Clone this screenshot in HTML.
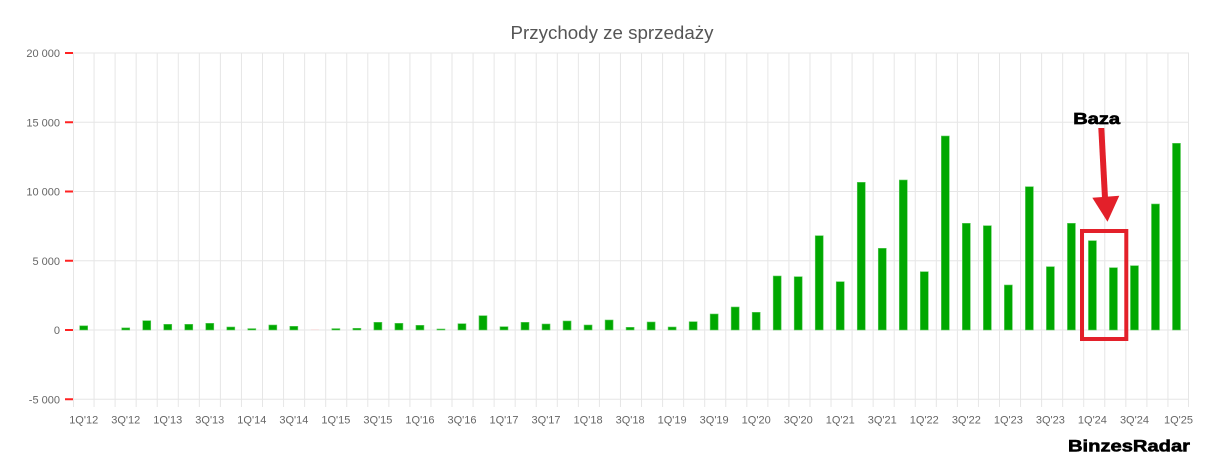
<!DOCTYPE html>
<html>
<head>
<meta charset="utf-8">
<style>
html,body{margin:0;padding:0;background:#fff;}
svg{display:block;}
text{font-family:"Liberation Sans",Arial,sans-serif;}
</style>
</head>
<body>
<svg width="1209" height="460" viewBox="0 0 1209 460" xmlns="http://www.w3.org/2000/svg">
<rect x="0" y="0" width="1209" height="460" fill="#fff"/>
<text x="612" y="39" text-anchor="middle" font-size="18" fill="#555" textLength="203" lengthAdjust="spacingAndGlyphs">Przychody ze sprzedaży</text>
<g stroke="#e6e6e6" stroke-width="1">
<path d="M73.5 53V407 M94.06 53V407 M115.11 53V407 M136.17 53V407 M157.23 53V407 M178.28 53V407 M199.34 53V407 M220.4 53V407 M241.45 53V407 M262.51 53V407 M283.57 53V407 M304.62 53V407 M325.68 53V407 M346.74 53V407 M367.79 53V407 M388.85 53V407 M409.91 53V407 M430.96 53V407 M452.02 53V407 M473.08 53V407 M494.13 53V407 M515.19 53V407 M536.25 53V407 M557.3 53V407 M578.36 53V407 M599.42 53V407 M620.47 53V407 M641.53 53V407 M662.58 53V407 M683.64 53V407 M704.7 53V407 M725.75 53V407 M746.81 53V407 M767.87 53V407 M788.92 53V407 M809.98 53V407 M831.04 53V407 M852.09 53V407 M873.15 53V407 M894.21 53V407 M915.26 53V407 M936.32 53V407 M957.38 53V407 M978.43 53V407 M999.49 53V407 M1020.55 53V407 M1041.6 53V407 M1062.66 53V407 M1083.72 53V407 M1104.77 53V407 M1125.83 53V407 M1146.89 53V407 M1167.94 53V407 M1188.5 53V407"/>
<path d="M73 53H1189 M73 122.3H1189 M73 191.5H1189 M73 260.8H1189 M73 330H1189 M73 399.3H1189"/>
</g>
<g stroke="#f22" stroke-width="2">
<path d="M65 53H73 M65 122.3H73 M65 191.5H73 M65 260.8H73 M65 330H73 M65 399.3H73"/>
</g>
<g font-size="11" fill="#666" text-anchor="end">
<text x="60" y="57">20 000</text>
<text x="60" y="126.3">15 000</text>
<text x="60" y="195.5">10 000</text>
<text x="60" y="264.8">5 000</text>
<text x="60" y="334">0</text>
<text x="60" y="403.3">-5 000</text>
</g>
<g fill="#00a800" stroke="#5fcc5f" stroke-width="0.6">
<rect x="79.7" y="325.8" width="8" height="4.2"/>
<rect x="121.73" y="327.9" width="8" height="2.1"/>
<rect x="142.75" y="320.7" width="8" height="9.3"/>
<rect x="163.76" y="324.3" width="8" height="5.7"/>
<rect x="184.78" y="324.3" width="8" height="5.7"/>
<rect x="205.79" y="323.3" width="8" height="6.7"/>
<rect x="226.81" y="327" width="8" height="3"/>
<rect x="247.82" y="328.6" width="8" height="1.4"/>
<rect x="268.84" y="325" width="8" height="5"/>
<rect x="289.85" y="326.3" width="8" height="3.7"/>
<rect x="331.88" y="328.6" width="8" height="1.4"/>
<rect x="352.9" y="328.3" width="8" height="1.7"/>
<rect x="373.91" y="322.3" width="8" height="7.7"/>
<rect x="394.93" y="323.3" width="8" height="6.7"/>
<rect x="415.94" y="325.3" width="8" height="4.7"/>
<rect x="436.96" y="329" width="8" height="1"/>
<rect x="457.97" y="323.7" width="8" height="6.3"/>
<rect x="478.99" y="315.7" width="8" height="14.3"/>
<rect x="500" y="326.7" width="8" height="3.3"/>
<rect x="521.02" y="322.3" width="8" height="7.7"/>
<rect x="542.03" y="324" width="8" height="6"/>
<rect x="563.05" y="321" width="8" height="9"/>
<rect x="584.06" y="325" width="8" height="5"/>
<rect x="605.08" y="320" width="8" height="10"/>
<rect x="626.09" y="327.3" width="8" height="2.7"/>
<rect x="647.11" y="322" width="8" height="8"/>
<rect x="668.12" y="327" width="8" height="3"/>
<rect x="689.14" y="321.7" width="8" height="8.3"/>
<rect x="710.15" y="314" width="8" height="16"/>
<rect x="731.17" y="307" width="8" height="23"/>
<rect x="752.18" y="312.3" width="8" height="17.7"/>
<rect x="773.2" y="276" width="8" height="54"/>
<rect x="794.21" y="276.7" width="8" height="53.3"/>
<rect x="815.23" y="235.7" width="8" height="94.3"/>
<rect x="836.24" y="281.7" width="8" height="48.3"/>
<rect x="857.26" y="182.3" width="8" height="147.7"/>
<rect x="878.27" y="248.3" width="8" height="81.7"/>
<rect x="899.29" y="180" width="8" height="150"/>
<rect x="920.3" y="271.7" width="8" height="58.3"/>
<rect x="941.32" y="136" width="8" height="194"/>
<rect x="962.33" y="223.3" width="8" height="106.7"/>
<rect x="983.35" y="225.7" width="8" height="104.3"/>
<rect x="1004.36" y="285" width="8" height="45"/>
<rect x="1025.38" y="186.7" width="8" height="143.3"/>
<rect x="1046.39" y="266.7" width="8" height="63.3"/>
<rect x="1067.41" y="223.3" width="8" height="106.7"/>
<rect x="1088.42" y="240.7" width="8" height="89.3"/>
<rect x="1109.44" y="267.7" width="8" height="62.3"/>
<rect x="1130.45" y="265.7" width="8" height="64.3"/>
<rect x="1151.47" y="204" width="8" height="126"/>
<rect x="1172.48" y="143.3" width="8" height="186.7"/>
</g>
<rect x="310.87" y="329.5" width="8" height="0.6" fill="#f4c8c8"/>
<g font-size="11" fill="#666" text-anchor="middle">
<text x="83.7" y="423.5">1Q'12</text>
<text x="125.73" y="423.5">3Q'12</text>
<text x="167.76" y="423.5">1Q'13</text>
<text x="209.79" y="423.5">3Q'13</text>
<text x="251.82" y="423.5">1Q'14</text>
<text x="293.85" y="423.5">3Q'14</text>
<text x="335.88" y="423.5">1Q'15</text>
<text x="377.91" y="423.5">3Q'15</text>
<text x="419.94" y="423.5">1Q'16</text>
<text x="461.97" y="423.5">3Q'16</text>
<text x="504" y="423.5">1Q'17</text>
<text x="546.03" y="423.5">3Q'17</text>
<text x="588.06" y="423.5">1Q'18</text>
<text x="630.09" y="423.5">3Q'18</text>
<text x="672.12" y="423.5">1Q'19</text>
<text x="714.15" y="423.5">3Q'19</text>
<text x="756.18" y="423.5">1Q'20</text>
<text x="798.21" y="423.5">3Q'20</text>
<text x="840.24" y="423.5">1Q'21</text>
<text x="882.27" y="423.5">3Q'21</text>
<text x="924.3" y="423.5">1Q'22</text>
<text x="966.33" y="423.5">3Q'22</text>
<text x="1008.36" y="423.5">1Q'23</text>
<text x="1050.39" y="423.5">3Q'23</text>
<text x="1092.42" y="423.5">1Q'24</text>
<text x="1134.45" y="423.5">3Q'24</text>
<text x="1178.5" y="423.5">1Q'25</text>
</g>
<rect x="1082" y="231" width="44.3" height="108" fill="none" stroke="#e3202a" stroke-width="4"/>
<polygon points="1098.3,128 1104.3,128 1108,198 1102,198" fill="#e3202a"/>
<polygon points="1092.3,197.7 1119.3,195.7 1107.5,221.7" fill="#e3202a"/>
<text x="1073.3" y="124" font-size="16" font-weight="bold" fill="#000" textLength="46.7" lengthAdjust="spacingAndGlyphs" stroke="#000" stroke-width="0.7">Baza</text>
<text x="1068" y="451.7" font-size="17" font-weight="bold" fill="#000" textLength="122" lengthAdjust="spacingAndGlyphs" stroke="#000" stroke-width="0.6">BinzesRadar</text>
</svg>
</body>
</html>
